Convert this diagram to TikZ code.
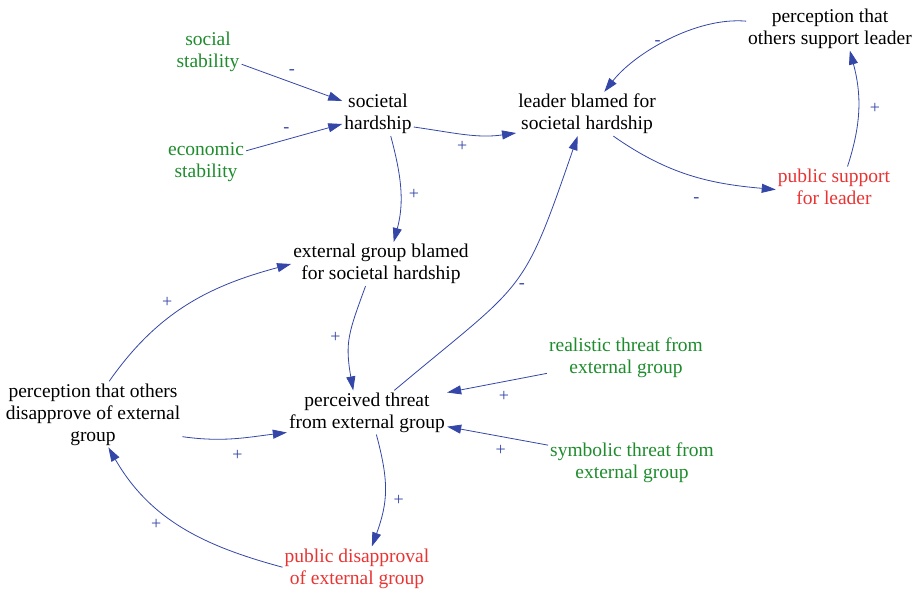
\documentclass[tikz,border=0pt]{standalone}
\usepackage{fontspec}
\setmainfont{Liberation Serif}
\usetikzlibrary{arrows.meta}

\definecolor{linkblue}{RGB}{52,70,168}
\definecolor{exogreen}{RGB}{30,140,45}
\definecolor{keyred}{RGB}{232,52,50}

\newcommand{\varfont}{\fontsize{19.5}{22}\selectfont}
\newcommand{\polfont}{\fontsize{18}{18}\selectfont}

\begin{document}
\begin{tikzpicture}[x=1pt,y=1pt]
  \useasboundingbox (0,0) rectangle (916,589);

  \begin{scope}[every node/.style={align=center,font=\varfont,inner sep=2pt}]
    \node (soc)  at (208,537)   [text=exogreen] {social\\stability};
    \node (eco)  at (206,427)   [text=exogreen] {economic\\stability};
    \node (hard) at (378,475)   {societal\\hardship};
    \node (lead) at (587,475)   {leader blamed for\\societal hardship};
    \node (psl)  at (830,560.5) {perception that\\others support leader};
    \node (pub)  at (834,402.5) [text=keyred] {public support\\for leader};
    \node (egb)  at (381,325)   {external group blamed\\for societal hardship};
    \node (thr)  at (367,176.5) {perceived threat\\from external group};
    \node (pdis) at (93,174.6)  {perception that others\\disapprove of external\\group};
    \node (real) at (626,231)   [text=exogreen] {realistic threat from\\external group};
    \node (sym)  at (632,126)   [text=exogreen] {symbolic threat from\\external group};
    \node (dis)  at (357,20.5)  [text=keyred] {public disapproval\\of external group};
  \end{scope}

  \begin{scope}[every node/.style={text=linkblue,font=\polfont,inner sep=0pt}]

    \begin{scope}[every edge/.style={draw=linkblue,line width=0.8pt,-{Triangle[length=14pt,width=9pt]}}]
      % hardship and who gets blamed
      \path (soc)       edge node[above=8pt] {-} (hard);
      \path (eco)       edge node[pos=.42,above=7pt] {-} (hard);
      \path (hard.-20)  edge[out=-8,in=188] node[pos=.47,below=7pt] {+} (lead.195);
      \path (hard.-60)  edge[out=-75,in=75] node[pos=.55,right=8pt] {+} (egb.60);
      % leader loop
      \path (psl)       edge[out=175,in=52,looseness=.8] node[pos=.57,above=0pt] {-} (lead);
      \path (lead.-40)  edge[out=-35,in=175] node[pos=.54,below=20pt] {-} (pub.183);
      \path (pub.56)    edge[out=72,in=-75] node[right=11pt] {+} (psl.-48);
      % threat from the external group
      \path (egb.-125)  edge[out=-110,in=100,looseness=1.2] node[left=9pt] {+} (thr.122);
      \path (thr.39)    edge[out=40,in=-109,looseness=1.4] node[pos=.48,right=7pt] {-} (lead.-113);
      \path (real.191)  edge node[pos=.43,below=9pt] {+} (thr.14);
      \path (sym.168)   edge node[pos=.47,below=8pt] {+} (thr.-10);
      % disapproval loop
      \path (thr.-67)   edge[out=-75,in=70,looseness=1.1] node[pos=.6,right=9pt] {+} (dis.56);
      \path (dis.179)   edge[out=165,in=-60] node[pos=.52,left=16pt] {+} (pdis.-65);
      \path (pdis.-14)  edge[out=-8,in=187] node[pos=.53,below=12pt] {+} (thr.194);
      \path (pdis.64)   edge[out=55,in=195] node[pos=.38,above=11pt] {+} (egb.180);
    \end{scope}
  \end{scope}

\end{tikzpicture}
\end{document}
